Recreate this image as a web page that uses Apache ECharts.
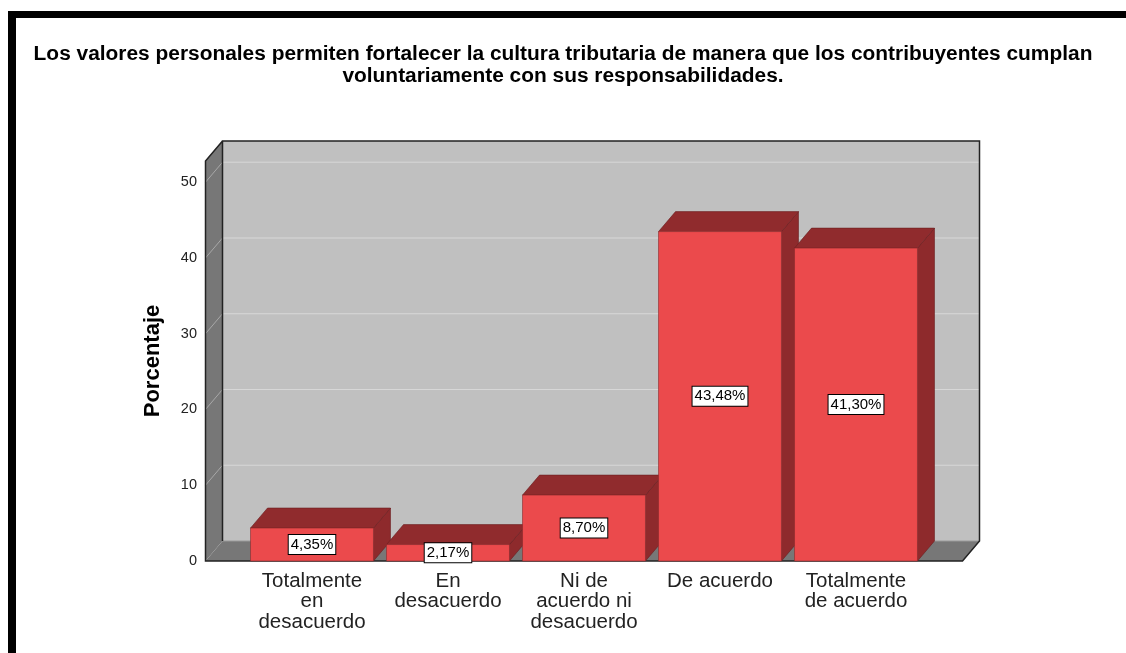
<!DOCTYPE html>
<html>
<head>
<meta charset="utf-8">
<script src="https://cdn.jsdelivr.net/npm/echarts@6/dist/echarts.min.js"></script>
<style>
  html, body { margin: 0; padding: 0; background: #fff; }
  #chart { width: 1126px; height: 653px; }
</style>
</head>
<body>
<div id="chart"></div>
<script>
// datos del grafico
const categories = ['Totalmente\nen\ndesacuerdo', 'En\ndesacuerdo', 'Ni de\nacuerdo ni\ndesacuerdo', 'De acuerdo', 'Totalmente\nde acuerdo'];
const percentages = [4.35, 2.17, 8.70, 43.48, 41.30];
const yTicks = [0, 10, 20, 30, 40, 50];

// efecto 3D (desplazamiento de profundidad)
const DX = 17, DY = -20, PAD = 38.5;

let myChart = echarts.init(document.getElementById('chart'));

function renderWalls(params, api) {
  const cs = params.coordSys;
  const l = cs.x - PAD, r = cs.x + cs.width + PAD;
  const t = cs.y, b = cs.y + cs.height;
  const children = [
    // pared del fondo
    { type: 'rect', shape: { x: l + DX, y: t + DY, width: r - l, height: b - t },
      style: { fill: '#c0c0c0', stroke: null } },
    // pared izquierda
    { type: 'polygon', shape: { points: [[l, b], [l, t], [l + DX, t + DY], [l + DX, b + DY]] },
      style: { fill: '#777777', stroke: null } },
    // piso
    { type: 'polygon', shape: { points: [[l, b], [r, b], [r + DX, b + DY], [l + DX, b + DY]] },
      style: { fill: '#777777', stroke: null } }
  ];
  yTicks.forEach(function (v) {
    if (v === 0) return;
    const y = api.coord([0, v])[1];
    children.push({ type: 'line', shape: { x1: l + DX, y1: y + DY, x2: r + DX, y2: y + DY },
      style: { stroke: '#d8d8d8', lineWidth: 1 } });
    children.push({ type: 'line', shape: { x1: l, y1: y, x2: l + DX, y2: y + DY },
      style: { stroke: '#a8a8a8', lineWidth: 1 } });
  });
  // bordes
  children.push({ type: 'line', shape: { x1: l + DX, y1: b + DY, x2: r + DX, y2: b + DY },
    style: { stroke: '#9a9a9a', lineWidth: 1 } });
  children.push({ type: 'polyline', shape: { points: [[l + DX, b + DY], [l + DX, t + DY], [r + DX, t + DY], [r + DX, b + DY], [r, b], [l, b], [l, t], [l + DX, t + DY]] },
    style: { stroke: '#222', lineWidth: 1.5, fill: null } });
  return { type: 'group', children: children };
}

function renderBar(params, api) {
  const top = api.coord([api.value(0), api.value(1)]);
  const base = api.coord([api.value(0), 0]);
  const bw = api.size([1, 0])[0] * 0.904;
  const x0 = top[0] - bw / 2, yt = top[1], yb = base[1];
  const label = api.value(1).toFixed(2).replace('.', ',') + '%';
  return {
    type: 'group',
    children: [
      { type: 'polygon', shape: { points: [[x0 + bw, yt], [x0 + bw + DX, yt + DY], [x0 + bw + DX, yb + DY], [x0 + bw, yb]] },
        style: { fill: '#8e2a2c', stroke: '#6a1e20', lineWidth: 0.6 } },
      { type: 'polygon', shape: { points: [[x0, yt], [x0 + bw, yt], [x0 + bw + DX, yt + DY], [x0 + DX, yt + DY]] },
        style: { fill: '#902b2d', stroke: '#6a1e20', lineWidth: 0.6 } },
      { type: 'rect', shape: { x: x0, y: yt, width: bw, height: yb - yt },
        style: { fill: '#eb4a4c', stroke: '#8a2a2c', lineWidth: 0.6 } },
      { type: 'text', x: top[0], y: (yt + yb) / 2,
        style: { text: label, align: 'center', verticalAlign: 'middle', fontSize: 15, lineHeight: 16,
          fontFamily: 'Liberation Sans, Arial, sans-serif', fill: '#000',
          backgroundColor: '#fff', borderColor: '#000', borderWidth: 1, padding: [2, 2, 1, 2] } }
    ]
  };
}

myChart.setOption({
  animation: false,
  textStyle: { fontFamily: 'Liberation Sans, Arial, sans-serif' },
  title: {
    text: 'Los valores personales permiten fortalecer la cultura tributaria de manera que los contribuyentes cumplan\nvoluntariamente con sus responsabilidades.',
    left: 558,
    top: 38,
    textAlign: 'center',
    textStyle: { fontSize: 20.9, fontWeight: 'bold', color: '#000', lineHeight: 22 }
  },
  graphic: [
    { type: 'rect', left: 8, top: 11, shape: { width: 1118, height: 7 }, style: { fill: '#000' } },
    { type: 'rect', left: 8, top: 11, shape: { width: 8, height: 642 }, style: { fill: '#000' } }
  ],
  grid: { left: 244, right: 202, top: 161, bottom: 92 },
  xAxis: {
    type: 'category',
    data: categories,
    axisLine: { show: false },
    axisTick: { show: false },
    axisLabel: { margin: 10, fontSize: 20.5, lineHeight: 20.5, color: '#222', interval: 0 }
  },
  yAxis: {
    type: 'value',
    min: 0,
    max: 52.8,
    interval: 10,
    name: 'Porcentaje',
    nameLocation: 'middle',
    nameGap: 80,
    nameTextStyle: { fontSize: 22, fontWeight: 'bold', color: '#000' },
    axisLine: { show: false },
    axisTick: { show: false },
    splitLine: { show: false },
    axisLabel: { margin: 47, fontSize: 14.5, color: '#222', showMaxLabel: false }
  },
  series: [
    {
      type: 'custom',
      renderItem: renderWalls,
      data: [[0, 0]],
      silent: true,
      z: 1
    },
    {
      type: 'custom',
      renderItem: renderBar,
      encode: { x: 0, y: 1 },
      data: percentages.map(function (v, i) { return [i, v]; }),
      z: 2
    }
  ]
});
</script>
</body>
</html>
